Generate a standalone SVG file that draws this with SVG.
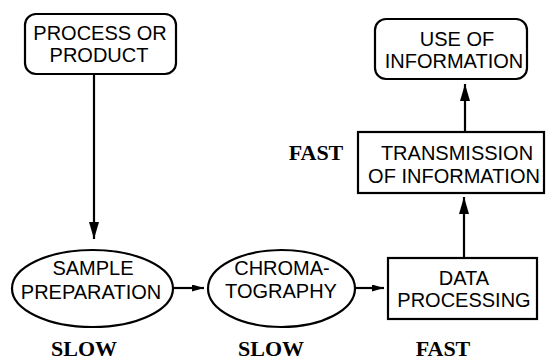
<svg xmlns="http://www.w3.org/2000/svg" width="548" height="362" viewBox="0 0 548 362">
<style>
.box{fill:#fff;stroke:#000;stroke-width:2.2}
.t{font-family:"Liberation Sans",Arial,sans-serif;font-size:20px;fill:#000;text-anchor:middle}
.lbl{font-family:"Liberation Serif","Times New Roman",serif;font-size:22px;font-weight:bold;fill:#000;text-anchor:middle}
.c{stroke:#000;stroke-width:2.2;fill:none}
</style>
<defs>
<marker id="ah" viewBox="0 0 17 10" refX="17" refY="5" markerWidth="17" markerHeight="10" markerUnits="userSpaceOnUse" orient="auto">
<path d="M0,0 L17,5 L0,10 z" fill="#000"/>
</marker>
<marker id="ahs" viewBox="0 0 12 7" refX="12" refY="3.5" markerWidth="12" markerHeight="7" markerUnits="userSpaceOnUse" orient="auto">
<path d="M0,0 L12,3.5 L0,7 z" fill="#000"/>
</marker>
</defs>
<g id="connectors">
<line class="c" x1="94" y1="74" x2="94" y2="239" marker-end="url(#ah)"/>
<line class="c" x1="173" y1="288" x2="204" y2="288" marker-end="url(#ahs)"/>
<line class="c" x1="356" y1="288" x2="384" y2="288" marker-end="url(#ahs)"/>
<line class="c" x1="464" y1="258" x2="464" y2="197" marker-end="url(#ah)"/>
<line class="c" x1="465" y1="131" x2="465" y2="84" marker-end="url(#ah)"/>
</g>
<g id="process">
<rect class="box" x="25" y="14" width="151" height="60" rx="11"/>
<text class="t" x="100" y="40">PROCESS OR</text>
<text class="t" x="99" y="62">PRODUCT</text>
</g>
<g id="sample">
<ellipse class="box" cx="92.5" cy="288.5" rx="80.5" ry="38.5"/>
<text class="t" x="93" y="275">SAMPLE</text>
<text class="t" x="91" y="299">PREPARATION</text>
</g>
<g id="chroma">
<ellipse class="box" cx="281.5" cy="288.5" rx="73.5" ry="38.5"/>
<text class="t" x="282" y="275">CHROMA-</text>
<text class="t" x="281" y="298">TOGRAPHY</text>
</g>
<g id="data">
<rect class="box" x="388" y="258" width="149" height="61"/>
<text class="t" x="464" y="285">DATA</text>
<text class="t" x="464" y="307">PROCESSING</text>
</g>
<g id="transmission">
<rect class="box" x="358" y="132" width="186" height="61"/>
<text class="t" x="457" y="160">TRANSMISSION</text>
<text class="t" x="454" y="183">OF INFORMATION</text>
</g>
<g id="use">
<rect class="box" x="375" y="19" width="152" height="60" rx="11"/>
<text class="t" x="457" y="46">USE OF</text>
<text class="t" x="454" y="68">INFORMATION</text>
</g>
<g id="labels">
<text class="lbl" x="316" y="160">FAST</text>
<text class="lbl" x="84" y="356">SLOW</text>
<text class="lbl" x="271" y="356">SLOW</text>
<text class="lbl" x="443" y="356">FAST</text>
</g>
</svg>
